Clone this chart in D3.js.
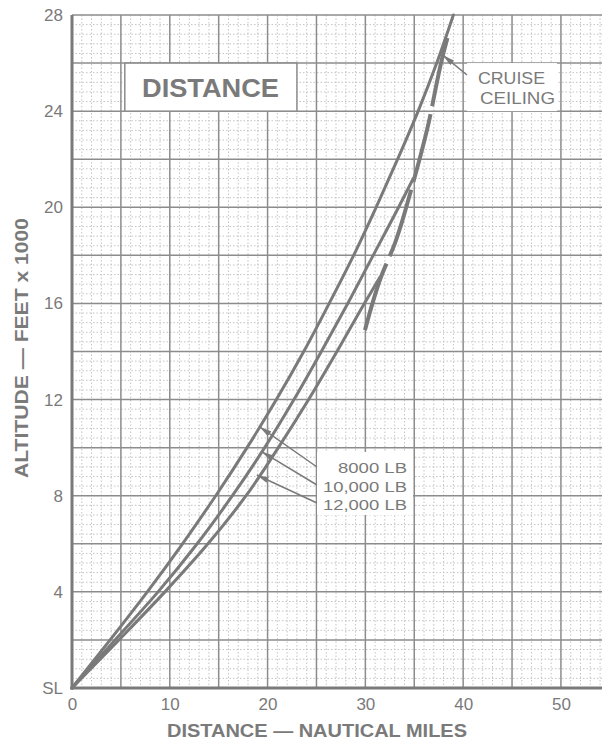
<!DOCTYPE html>
<html><head><meta charset="utf-8">
<script src="https://cdn.jsdelivr.net/npm/d3@7"></script>
<style>body{margin:0;background:#fff}svg{display:block}</style>
</head><body><div id="chart"></div>
<script>
// ---- data ----
const xTicks = [0, 10, 20, 30, 40, 50];
const yTicks = [0, 4, 8, 12, 16, 20, 24, 28];
const yTickLabels = ["SL", "4", "8", "12", "16", "20", "24", "28"];
const seriesNames = ["8000 LB", "10,000 LB", "12,000 LB"];
const alt8000  = [0, 2, 4, 6, 8, 10, 12, 14, 16, 18, 20, 22, 24, 26, 28];
const dist8000 = [0, 3.9, 7.7, 11.3, 14.7, 17.9, 20.9, 23.7, 26.3, 28.8, 31.1, 33.3, 35.4, 37.3, 39.0];
const alt10000  = [0, 2, 4, 6, 8, 10, 12, 14, 16, 18, 20, 21.2];
const dist10000 = [0, 4.4, 8.8, 12.8, 16.4, 19.7, 22.7, 25.5, 28.2, 30.8, 33.4, 34.9];
const alt12000  = [0, 2, 4, 6, 8, 10, 12, 14, 16, 17.1];
const dist12000 = [0, 4.8, 9.5, 13.9, 17.8, 21.1, 24.2, 27.1, 29.9, 31.5];
const ceilingAlt  = [14.89, 17.1, 18.51, 20.84, 23.21, 26.33, 27.2];
const ceilingDist = [29.96, 31.6, 33.03, 34.76, 36.3, 37.93, 38.5];
// label pointer targets (distance, altitude)
const pointerDist = [19.2, 19.4, 18.9];
const pointerAlt  = [10.86, 9.83, 8.86];

const W = 603, H = 743;
const grey = "#7a7a7a";
const font = "Liberation Sans, Arial, sans-serif";
const svg = d3.select("#chart").append("svg").attr("width", W).attr("height", H);

const x = d3.scaleLinear().domain([0, 54.2]).range([72, 602]);
const y = d3.scaleLinear().domain([0, 28]).range([688, 15]);

const defs = svg.append("defs");
defs.append("marker").attr("id", "arr").attr("viewBox", "0 0 12 6")
  .attr("refX", 12).attr("refY", 3).attr("markerWidth", 12).attr("markerHeight", 6)
  .attr("markerUnits", "userSpaceOnUse").attr("orient", "auto")
  .append("path").attr("d", "M0,0 L12,3 L0,6 Z").attr("fill", grey);

// grid
const g = svg.append("g");
const minorX = d3.range(1, 55).filter(d => d % 5 !== 0);
const majorX = d3.range(5, 55, 5);
const minorY = d3.range(0.4, 28, 0.4).filter(v => Math.abs(v / 2 - Math.round(v / 2)) > 0.01);
const majorY = d3.range(2, 28.01, 2);
g.selectAll(".mx").data(minorX).join("line")
  .attr("x1", d => x(d)).attr("x2", d => x(d)).attr("y1", y(28)).attr("y2", y(0))
  .attr("stroke", "#c4c4c4").attr("stroke-width", 1).attr("stroke-dasharray", "1.5,2");
g.selectAll(".my").data(minorY).join("line")
  .attr("y1", d => y(d)).attr("y2", d => y(d)).attr("x1", x(0)).attr("x2", x(54.2))
  .attr("stroke", "#c4c4c4").attr("stroke-width", 1).attr("stroke-dasharray", "1.5,2");
g.selectAll(".Mx").data(majorX).join("line")
  .attr("x1", d => x(d)).attr("x2", d => x(d)).attr("y1", y(28)).attr("y2", y(0))
  .attr("stroke", "#8c8c8c").attr("stroke-width", 1.5);
g.selectAll(".My").data(majorY).join("line")
  .attr("y1", d => y(d)).attr("y2", d => y(d)).attr("x1", x(0)).attr("x2", x(54.2))
  .attr("stroke", "#8c8c8c").attr("stroke-width", 1.5);

// axes lines
svg.append("line").attr("x1", x(0)).attr("x2", x(0)).attr("y1", y(28)).attr("y2", y(0) + 1.5)
  .attr("stroke", grey).attr("stroke-width", 3);
svg.append("line").attr("x1", x(0) - 1.5).attr("x2", x(54.2)).attr("y1", y(0)).attr("y2", y(0))
  .attr("stroke", grey).attr("stroke-width", 3);

// tick labels via axes
const xAxis = d3.axisBottom(x).tickValues(xTicks).tickSize(0).tickPadding(10);
const xa = svg.append("g").attr("transform", `translate(0,${y(0)})`).call(xAxis);
xa.select(".domain").remove();
xa.selectAll("text").attr("font-family", font).attr("font-size", 17).attr("fill", grey);
const yAxis = d3.axisLeft(y).tickValues(yTicks).tickFormat((d, i) => yTickLabels[i]).tickSize(0).tickPadding(9);
const ya = svg.append("g").attr("transform", `translate(${x(0)},0)`).call(yAxis);
ya.select(".domain").remove();
ya.selectAll("text").attr("font-family", font).attr("font-size", 17).attr("fill", grey);

// axis titles
svg.append("text").attr("x", 167).attr("y", 737).text("DISTANCE — NAUTICAL MILES")
  .attr("font-family", font).attr("font-weight", "bold")
  .attr("font-size", 19).attr("fill", grey).attr("textLength", 300).attr("lengthAdjust", "spacingAndGlyphs");
svg.append("text").attr("transform", "translate(28,478) rotate(-90)").text("ALTITUDE — FEET x 1000")
  .attr("font-family", font).attr("font-weight", "bold")
  .attr("font-size", 19).attr("fill", grey).attr("textLength", 260).attr("lengthAdjust", "spacingAndGlyphs");

// curves
const line = d3.line().x(d => x(d[0])).y(d => y(d[1])).curve(d3.curveMonotoneY);
const series = [
  d3.zip(dist8000, alt8000),
  d3.zip(dist10000, alt10000),
  d3.zip(dist12000, alt12000)
];
svg.selectAll(".curve").data(series).join("path")
  .attr("d", line).attr("fill", "none").attr("stroke", grey).attr("stroke-width", 3)
  .attr("stroke-linecap", "round");
svg.append("path").datum(d3.zip(ceilingDist, ceilingAlt)).attr("d", line)
  .attr("fill", "none").attr("stroke", grey).attr("stroke-width", 4)
  .attr("stroke-dasharray", "70,8");

// DISTANCE title box
svg.append("rect").attr("x", x(5.4)).attr("y", y(26)).attr("width", x(23) - x(5.4)).attr("height", y(24) - y(26))
  .attr("fill", "#fff").attr("stroke", "#8c8c8c").attr("stroke-width", 1.5);
svg.append("text").attr("x", 142).attr("y", 97).text("DISTANCE")
  .attr("font-family", font).attr("font-weight", "900")
  .attr("font-size", 25).attr("fill", grey).attr("textLength", 137).attr("lengthAdjust", "spacingAndGlyphs");

// CRUISE CEILING box
svg.append("rect").attr("x", 467).attr("y", y(26)).attr("width", 90).attr("height", y(24) - y(26))
  .attr("fill", "#fff").attr("stroke", "none");
svg.append("text").attr("x", 478).attr("y", 84).text("CRUISE")
  .attr("font-family", font).attr("font-size", 16.5).attr("fill", grey)
  .attr("textLength", 67).attr("lengthAdjust", "spacingAndGlyphs");
svg.append("text").attr("x", 480).attr("y", 104).text("CEILING")
  .attr("font-family", font).attr("font-size", 16.5).attr("fill", grey)
  .attr("textLength", 75).attr("lengthAdjust", "spacingAndGlyphs");
svg.append("line").attr("x1", 467).attr("y1", 75).attr("x2", x(37.93)).attr("y2", y(26.33))
  .attr("stroke", grey).attr("stroke-width", 1.5).attr("marker-end", "url(#arr)");

// weight legend box
svg.append("rect").attr("x", 317).attr("y", 452).attr("width", 96).attr("height", 63)
  .attr("fill", "#fff");
const labelY = [473, 491.5, 510];
const labelW = [69, 84, 84];
const startY = [467, 485, 503];
seriesNames.forEach((n, i) => {
  svg.append("text").attr("x", 407).attr("y", labelY[i]).attr("text-anchor", "end").text(n)
    .attr("font-family", font).attr("font-size", 15.5).attr("fill", grey)
    .attr("textLength", labelW[i]).attr("lengthAdjust", "spacingAndGlyphs");
  svg.append("line").attr("x1", 317).attr("y1", startY[i])
    .attr("x2", x(pointerDist[i])).attr("y2", y(pointerAlt[i]))
    .attr("stroke", grey).attr("stroke-width", 1.5).attr("marker-end", "url(#arr)");
});
</script></body></html>
